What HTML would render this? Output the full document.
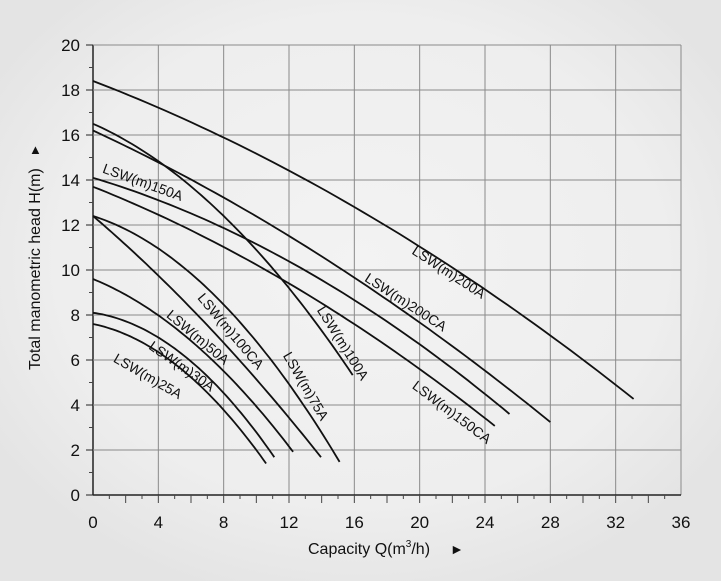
<!DOCTYPE html>
<html><head><meta charset="utf-8"><style>
html,body{margin:0;padding:0;background:#e6e6e6;}
svg{display:block;font-family:"Liberation Sans",sans-serif;}
</style></head><body>
<svg id="s" width="721" height="581" viewBox="0 0 721 581" xmlns="http://www.w3.org/2000/svg">
<defs><radialGradient id="g" cx="0.5" cy="0.45" r="0.6"><stop offset="0" stop-color="#f3f3f3"/><stop offset="0.7" stop-color="#eeeeee"/><stop offset="1" stop-color="#e4e4e4"/></radialGradient></defs>
<rect width="721" height="581" fill="url(#g)"/>
<g id="grid" stroke="#8a8a8a" stroke-width="1"></g>
<g id="curves" fill="none" stroke="#111" stroke-width="1.8"></g>
<g id="labels" font-size="14" fill="#111"></g>
<g id="ticks" font-size="17" fill="#111"></g>
<text x="0" y="0" font-size="16" fill="#111" transform="translate(40,370) rotate(-90)">Total manometric head H(m)</text>
<text x="29" y="154" font-size="13" fill="#111">▲</text>
<text x="308" y="554" font-size="16" fill="#111">Capacity Q(m<tspan font-size="10" dy="-7">3</tspan><tspan dy="7">/h)</tspan></text>
<text x="450" y="554" font-size="14" fill="#111">►</text>
</svg>
<script>
var NS="http://www.w3.org/2000/svg";
function X(q){return 93+q*588/36;}function Y(h){return 495-h*22.5;}
function el(p,t,a,txt){var e=document.createElementNS(NS,t);for(var k in a)e.setAttribute(k,a[k]);if(txt!=null)e.textContent=txt;document.getElementById(p).appendChild(e);return e;}
for(var q=0;q<=36;q+=4){el("grid","line",{x1:X(q),y1:Y(0),x2:X(q),y2:Y(20),stroke:q==0?"#222":"#8a8a8a","stroke-width":q==0?1.5:1});
 el("ticks","text",{x:X(q),y:528,"text-anchor":"middle"},q);}
for(var h=0;h<=20;h+=2){el("grid","line",{x1:X(0),y1:Y(h),x2:X(36),y2:Y(h),stroke:h==0?"#222":"#8a8a8a","stroke-width":h==0?1.5:1});
 el("ticks","text",{x:80,y:Y(h)+6,"text-anchor":"end"},h);
 el("grid","line",{x1:86,y1:Y(h),x2:93,y2:Y(h),stroke:"#222"});}
for(var h=1;h<20;h+=2)el("grid","line",{x1:89,y1:Y(h),x2:93,y2:Y(h),stroke:"#444"});
for(var q=1;q<36;q++)el("grid","line",{x1:X(q),y1:495,x2:X(q),y2:q%2?499:503,stroke:"#444"});
function fit(H0,q1,h1,q2,h2){var d1=H0-h1,d2=H0-h2;var c=(d2/q2-d1/q1)/(q2-q1);var b=d1/q1-c*q1;
 var p="";for(var i=0;i<=60;i++){var q=q2*i/60;var h=H0-b*q-c*q*q;p+=(i?"L":"M")+X(q).toFixed(1)+","+Y(h).toFixed(1);}el("curves","path",{d:p});}
fit(7.6,4,6.35,10.6,1.4);
fit(8.1,4,7.0,11.1,1.68);
fit(9.6,7.3,6,12.25,1.92);
fit(12.4,6.4,8,13.96,1.68);
fit(12.4,8.6,8,15.1,1.47);
fit(16.5,11.6,9.55,15.9,5.33);
fit(16.2,12.7,11.2,28,3.24);
fit(14.1,12.7,10.1,25.5,3.6);
fit(13.7,12.7,9.1,24.6,3.07);
fit(18.4,16,12.8,33.1,4.27);
var L=[["LSW(m)150A",143,182,20],["LSW(m)200A",449,272,33],["LSW(m)200CA",406,302,33],["LSW(m)150CA",452,412,37],
["LSW(m)100A",343,343,58],["LSW(m)75A",306,386,60],["LSW(m)100CA",231,331,50],["LSW(m)50A",198,337,40],["LSW(m)30A",182,366,35],["LSW(m)25A",148,376,30]];
L.forEach(function(l){el("labels","text",{x:0,y:5,"text-anchor":"middle",transform:"translate("+l[1]+","+l[2]+") rotate("+l[3]+")"},l[0]);});
</script>
</body></html>
